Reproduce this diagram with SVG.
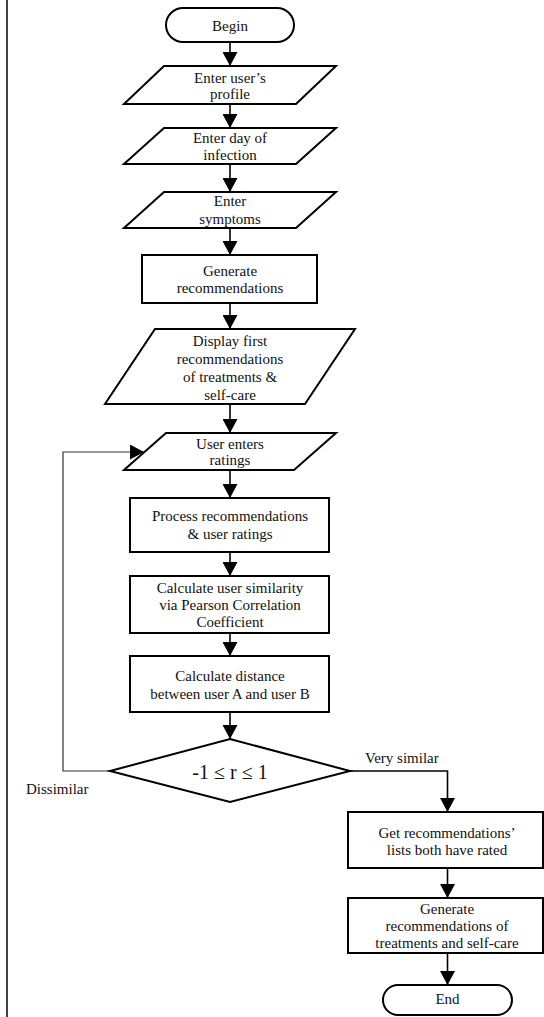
<svg xmlns="http://www.w3.org/2000/svg" width="544" height="1017" viewBox="0 0 544 1017">
<style>
.shape{fill:#fff;stroke:#000;stroke-width:2}
.t{font-family:"Liberation Serif","Times New Roman",serif;font-size:15px;fill:#111;text-anchor:middle}
.lbl{font-family:"Liberation Serif","Times New Roman",serif;font-size:15px;fill:#111}
.c{fill:none;stroke:#000;stroke-width:1.6}
.fb{fill:none;stroke:#333;stroke-width:1.2}
</style>
<defs>
<marker id="ah" markerUnits="userSpaceOnUse" markerWidth="14" markerHeight="15" viewBox="0 0 14 15" refX="14" refY="7.5" orient="auto">
<path d="M0,0 L14,7.5 L0,15 z" fill="#000"/>
</marker>
</defs>
<rect width="544" height="1017" fill="#fff"/>
<line x1="7" y1="0" x2="7" y2="1017" stroke="#111" stroke-width="1.6"/>
<g id="connectors">
<path class="c" d="M230,42 V66" marker-end="url(#ah)"/>
<path class="c" d="M230,104 V128" marker-end="url(#ah)"/>
<path class="c" d="M230,164 V192" marker-end="url(#ah)"/>
<path class="c" d="M230,228 V255" marker-end="url(#ah)"/>
<path class="c" d="M230,303 V329" marker-end="url(#ah)"/>
<path class="c" d="M230,404 V433" marker-end="url(#ah)"/>
<path class="c" d="M230,470 V498" marker-end="url(#ah)"/>
<path class="c" d="M230,552 V576" marker-end="url(#ah)"/>
<path class="c" d="M230,633 V656" marker-end="url(#ah)"/>
<path class="c" d="M230,712 V739" marker-end="url(#ah)"/>
<path class="fb" d="M110,771 H63 V452 H144" marker-end="url(#ah)"/>
<path class="c" d="M350,771 H447.5 V812" marker-end="url(#ah)"/>
<path class="c" d="M447.5,868 V898" marker-end="url(#ah)"/>
<path class="c" d="M447.5,953 V985" marker-end="url(#ah)"/>
<text class="lbl" x="365" y="763">Very similar</text>
<text class="lbl" x="26" y="794">Dissimilar</text>
</g>
<g id="begin">
<rect class="shape" x="166" y="8" width="128" height="34" rx="17"/>
<text class="t" x="230" y="31">Begin</text>
</g>
<g id="profile">
<polygon class="shape" points="164,66 336,66 296,104 124,104"/>
<text class="t" x="230" y="83">Enter user’s</text>
<text class="t" x="230" y="99">profile</text>
</g>
<g id="day">
<polygon class="shape" points="164,128 336,128 296,164 124,164"/>
<text class="t" x="230" y="143">Enter day of</text>
<text class="t" x="230" y="160">infection</text>
</g>
<g id="symptoms">
<polygon class="shape" points="164,192 336,192 296,228 124,228"/>
<text class="t" x="230" y="206">Enter</text>
<text class="t" x="230" y="224">symptoms</text>
</g>
<g id="generate">
<rect class="shape" x="142" y="255" width="175" height="48"/>
<text class="t" x="230" y="276">Generate</text>
<text class="t" x="230" y="293">recommendations</text>
</g>
<g id="display">
<polygon class="shape" points="155,329 355,329 305,404 105,404"/>
<text class="t" x="230" y="346">Display first</text>
<text class="t" x="230" y="363.5">recommendations</text>
<text class="t" x="230" y="382">of treatments &amp;</text>
<text class="t" x="230" y="399.5">self-care</text>
</g>
<g id="ratings">
<polygon class="shape" points="166,433 336,433 294,470 124,470"/>
<text class="t" x="230" y="448.5">User enters</text>
<text class="t" x="230" y="465">ratings</text>
</g>
<g id="process">
<rect class="shape" x="130" y="498" width="199" height="54"/>
<text class="t" x="230" y="521">Process recommendations</text>
<text class="t" x="230" y="538.5">&amp; user ratings</text>
</g>
<g id="similarity">
<rect class="shape" x="130" y="576" width="199" height="57"/>
<text class="t" x="230" y="592.5">Calculate user similarity</text>
<text class="t" x="230" y="609.5">via Pearson Correlation</text>
<text class="t" x="230" y="627">Coefficient</text>
</g>
<g id="distance">
<rect class="shape" x="130" y="656" width="199" height="56"/>
<text class="t" x="230" y="681">Calculate distance</text>
<text class="t" x="230" y="698.5">between user A and user B</text>
</g>
<g id="decision">
<polygon class="shape" points="230,739 350,771 230,802 110,771"/>
<text class="t" x="230" y="779" style="font-size:20px">-1 ≤ r ≤ 1</text>
</g>
<g id="getlists">
<rect class="shape" x="348" y="812" width="195" height="56"/>
<text class="t" x="447" y="838">Get recommendations’</text>
<text class="t" x="447" y="855">lists both have rated</text>
</g>
<g id="generate2">
<rect class="shape" x="348" y="898" width="195" height="55"/>
<text class="t" x="447" y="914">Generate</text>
<text class="t" x="447" y="931">recommendations of</text>
<text class="t" x="447" y="948">treatments and self-care</text>
</g>
<g id="end">
<rect class="shape" x="383" y="985" width="129" height="30" rx="15"/>
<text class="t" x="447.5" y="1004">End</text>
</g>
</svg>
